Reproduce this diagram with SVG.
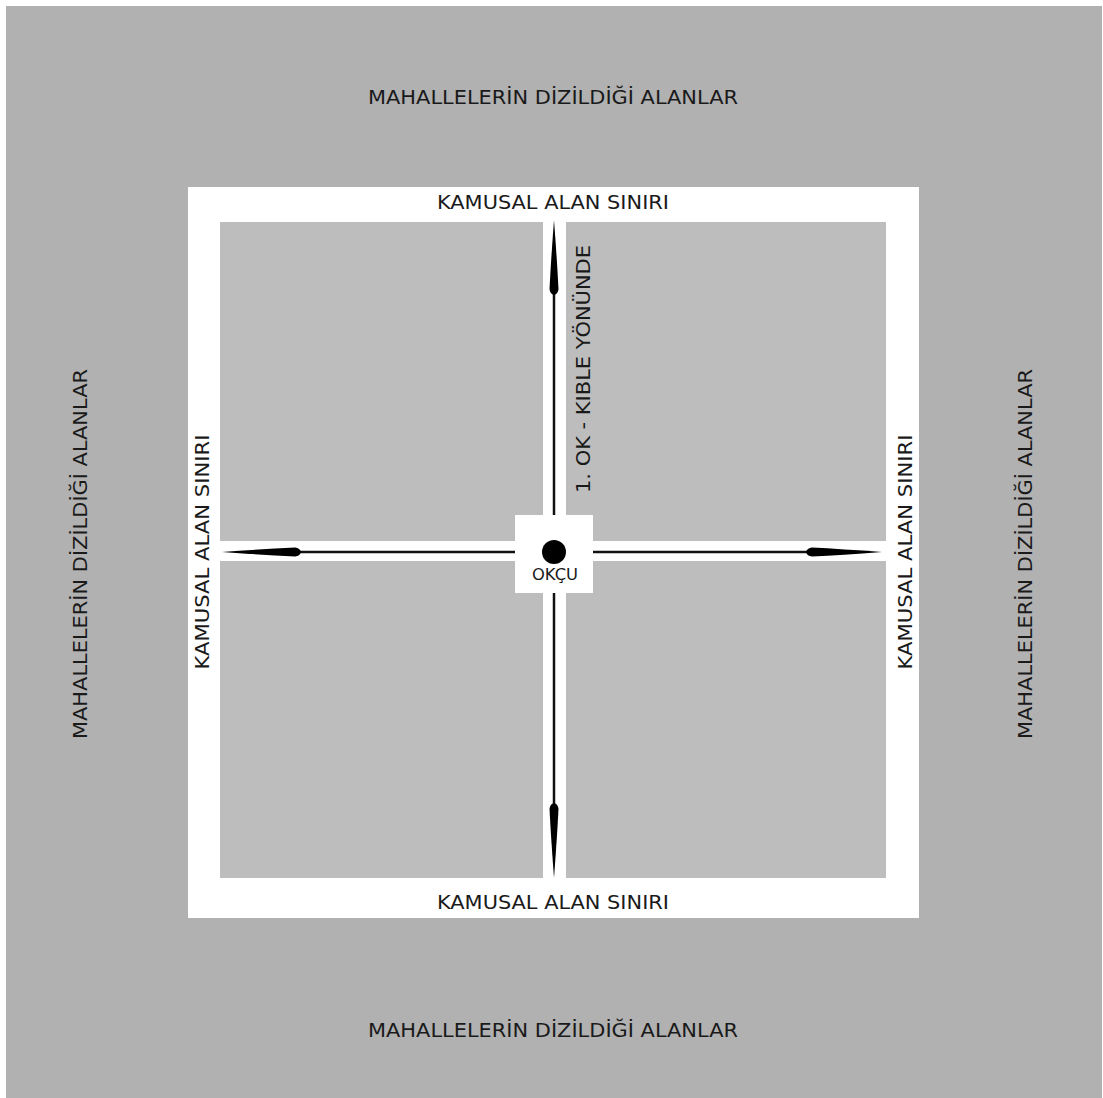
<svg xmlns="http://www.w3.org/2000/svg" width="1103" height="1098" viewBox="0 0 1103 1098">
<style>
.t{font-family:"DejaVu Sans",sans-serif;font-size:20px;fill:#1a1a1a;text-anchor:middle;dominant-baseline:central}
.q{fill:#bdbdbd}
.ln{stroke:#111;stroke-width:2.5;fill:none}
.ah{fill:#000}
</style>
<rect width="1103" height="1098" fill="#ffffff"/>
<g id="background"><rect x="6" y="6" width="1096" height="1092" fill="#b1b1b1"/></g>
<g id="frame"><rect x="188" y="187" width="731" height="731" fill="#ffffff"/></g>
<g id="quadrants">
<rect class="q" x="220" y="222" width="323" height="319"/>
<rect class="q" x="566" y="222" width="320" height="319"/>
<rect class="q" x="220" y="561" width="323" height="317"/>
<rect class="q" x="566" y="561" width="320" height="317"/>
</g>
<g id="connectors">
<line class="ln" x1="554" y1="290" x2="554" y2="515"/>
<line class="ln" x1="554" y1="593" x2="554" y2="808"/>
<line class="ln" x1="296" y1="552" x2="515" y2="552"/>
<line class="ln" x1="593" y1="552" x2="812" y2="552"/>
<path class="ah" d="M554,220 Q557,260 558.5,289 Q558,294 554,295 Q550,294 549.5,289 Q551,260 554,220 Z"/>
<path class="ah" d="M554,878 Q557,838 558.5,809 Q558,804 554,803 Q550,804 549.5,809 Q551,838 554,878 Z"/>
<path class="ah" d="M222,552 Q262,549 295,547.5 Q300,548 301,552 Q300,556 295,556.5 Q262,555 222,552 Z"/>
<path class="ah" d="M882,552 Q842,549 812,547.5 Q807,548 806,552 Q807,556 812,556.5 Q842,555 882,552 Z"/>
</g>
<g id="archer">
<rect x="515" y="515" width="78" height="78" fill="#ffffff"/>
<circle cx="554" cy="552" r="12" fill="#000"/>
<text class="t" x="555" y="574" style="font-size:16px" textLength="46" lengthAdjust="spacingAndGlyphs">OKÇU</text>
</g>
<g id="labels">
<text class="t" x="553" y="97" textLength="370" lengthAdjust="spacingAndGlyphs">MAHALLELERİN DİZİLDİĞİ ALANLAR</text>
<text class="t" x="553" y="1030" textLength="370" lengthAdjust="spacingAndGlyphs">MAHALLELERİN DİZİLDİĞİ ALANLAR</text>
<text class="t" transform="translate(80,554) rotate(-90)" textLength="370" lengthAdjust="spacingAndGlyphs">MAHALLELERİN DİZİLDİĞİ ALANLAR</text>
<text class="t" transform="translate(1025,554) rotate(-90)" textLength="370" lengthAdjust="spacingAndGlyphs">MAHALLELERİN DİZİLDİĞİ ALANLAR</text>
<text class="t" x="553" y="202" textLength="232" lengthAdjust="spacingAndGlyphs">KAMUSAL ALAN SINIRI</text>
<text class="t" x="553" y="902" textLength="232" lengthAdjust="spacingAndGlyphs">KAMUSAL ALAN SINIRI</text>
<text class="t" transform="translate(202,552) rotate(-90)" textLength="235" lengthAdjust="spacingAndGlyphs">KAMUSAL ALAN SINIRI</text>
<text class="t" transform="translate(905,552) rotate(-90)" textLength="235" lengthAdjust="spacingAndGlyphs">KAMUSAL ALAN SINIRI</text>
<text class="t" transform="translate(583,369) rotate(-90)" textLength="248" lengthAdjust="spacingAndGlyphs">1. OK - KIBLE YÖNÜNDE</text>
</g>
</svg>
